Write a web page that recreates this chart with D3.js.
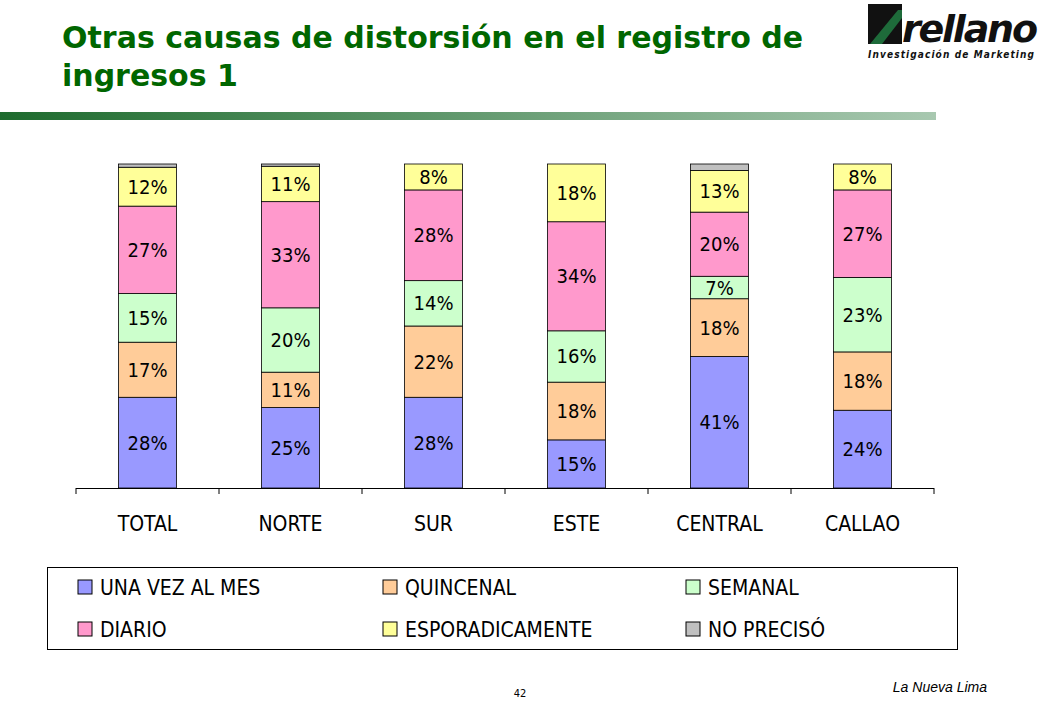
<!DOCTYPE html>
<html>
<head>
<meta charset="utf-8">
<script src="https://cdn.jsdelivr.net/npm/d3@7"></script>
<style>
  body { margin: 0; background: #fff; }
  text { font-family: Tahoma, "DejaVu Sans Condensed", "DejaVu Sans", sans-serif; }
</style>
</head>
<body>
<svg id="chart" width="1040" height="720"></svg>
<script>
const categories = ["TOTAL", "NORTE", "SUR", "ESTE", "CENTRAL", "CALLAO"];
const seriesNames = ["UNA VEZ AL MES", "QUINCENAL", "SEMANAL", "DIARIO", "ESPORADICAMENTE", "NO PRECISÓ"];
const seriesColors = ["#9999FF", "#FFCC99", "#CCFFCC", "#FF99CC", "#FFFF99", "#C0C0C0"];

const unaVez      = [28, 25, 28, 15, 41, 24];
const quincenal   = [17, 11, 22, 18, 18, 18];
const semanal     = [15, 20, 14, 16, 7, 23];
const diario      = [27, 33, 28, 34, 20, 27];
const esporadico  = [12, 11, 8, 18, 13, 8];
const noPreciso   = [1, 0.7, 0, 0, 2, 0];

const seriesValues = [unaVez, quincenal, semanal, diario, esporadico, noPreciso];

const svg = d3.select("#chart");

// Title
const title = svg.append("text")
  .style("font-family", "Verdana, 'DejaVu Sans', sans-serif")
  .style("font-weight", "bold").style("font-size", "30px")
  .style("fill", "#006600");
title.append("tspan").attr("x", 62).attr("y", 48).text("Otras causas de distorsión en el registro de");
title.append("tspan").attr("x", 62).attr("y", 86).text("ingresos 1");

// Gradient rule under the title
const defs = svg.append("defs");
const grad = defs.append("linearGradient").attr("id", "rule");
grad.append("stop").attr("offset", "0%").attr("stop-color", "#1E6B2E");
grad.append("stop").attr("offset", "100%").attr("stop-color", "#A8C8B0");
svg.append("rect").attr("x", 0).attr("y", 112).attr("width", 936).attr("height", 8).attr("fill", "url(#rule)");

// Logo
const logo = svg.append("g").attr("transform", "translate(868,4)");
logo.append("rect").attr("x", 0).attr("y", 0).attr("width", 34).attr("height", 40).attr("fill", "#111");
logo.append("path").attr("d", "M2,40 L30,6 L34,6 L34,14 L14,40 Z").attr("fill", "#1E6B3A");
logo.append("text").attr("x", 34).attr("y", 38)
  .style("font-family", "Verdana, 'DejaVu Sans', sans-serif")
  .style("font-weight", "bold").style("font-style", "italic").style("font-size", "38px")
  .style("fill", "#111").attr("textLength", 136).text("rellano");
logo.append("text").attr("x", 0).attr("y", 54)
  .style("font-weight", "bold").style("font-style", "italic").style("font-size", "10px")
  .style("fill", "#111").attr("textLength", 166).text("Investigación de Marketing");

// Chart
const x = d3.scaleBand().domain(categories).range([76, 934]);
const y = d3.scaleLinear().domain([0, 1]).range([488, 164]);
const barW = 58;

const rows = categories.map((c, i) => {
  const r = {cat: c};
  seriesNames.forEach((s, j) => r[s] = seriesValues[j][i]);
  return r;
});
const stacked = d3.stack().keys(seriesNames).offset(d3.stackOffsetExpand)(rows);

stacked.forEach((layer, j) => {
  const g = svg.append("g");
  layer.forEach(d => {
    const h = y(d[0]) - y(d[1]);
    if (h <= 0) return;
    const cx = x(d.data.cat) + x.bandwidth() / 2;
    g.append("rect")
      .attr("x", cx - barW / 2).attr("y", y(d[1]))
      .attr("width", barW).attr("height", h)
      .attr("fill", seriesColors[j]).attr("stroke", "#000").attr("stroke-width", 0.8);
    if (j < 5) {
      g.append("text")
        .attr("x", cx).attr("y", (y(d[0]) + y(d[1])) / 2 + 7)
        .attr("text-anchor", "middle").style("font-size", "20px")
        .text(d.data[layer.key] + "%");
    }
  });
});

// Axis
svg.append("line").attr("x1", 76).attr("x2", 934).attr("y1", 488.5).attr("y2", 488.5).attr("stroke", "#000");
const ticks = categories.map(c => x(c)).concat([x.range()[1]]);
ticks.forEach(t => svg.append("line").attr("x1", t).attr("x2", t).attr("y1", 488).attr("y2", 494).attr("stroke", "#000"));
categories.forEach(c => {
  svg.append("text").attr("x", x(c) + x.bandwidth() / 2).attr("y", 531)
    .attr("text-anchor", "middle").style("font-size", "21px").text(c);
});

// Legend
svg.append("rect").attr("x", 47.5).attr("y", 567.5).attr("width", 910).attr("height", 82)
  .attr("fill", "none").attr("stroke", "#000");
const legX = [78, 383, 686];
seriesNames.forEach((s, j) => {
  const lx = legX[j % 3], ly = j < 3 ? 587 : 629;
  svg.append("rect").attr("x", lx).attr("y", ly - 7).attr("width", 14).attr("height", 14)
    .attr("fill", seriesColors[j]).attr("stroke", "#000");
  svg.append("text").attr("x", lx + 22).attr("y", ly + 8).style("font-size", "21px").text(s);
});

// Footer
svg.append("text").attr("x", 520).attr("y", 697).attr("text-anchor", "middle").style("font-size", "11px").text("42");
svg.append("text").attr("x", 987).attr("y", 692).attr("text-anchor", "end")
  .style("font-family", "Arial, 'Liberation Sans', sans-serif")
  .style("font-style", "italic").style("font-size", "14px").text("La Nueva Lima");
</script>
</body>
</html>
